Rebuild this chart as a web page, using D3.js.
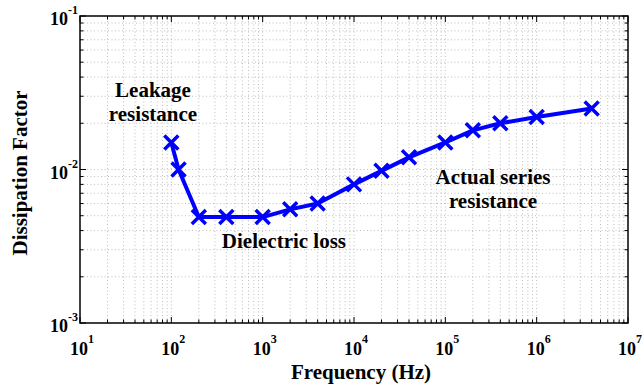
<!DOCTYPE html>
<html>

<head>
  <meta charset="utf-8">
  <title>Dissipation Factor</title>
  <script type="text/javascript" src="https://cdn.jsdelivr.net/npm/d3@7"></script>
  <style type="text/css">
    body { margin: 0; background: #fff; }
  </style>
</head>

<body>
  <script type="text/javascript">

    // Measured points
    const freq = [100, 120, 200, 400, 1000, 2000, 4000, 10000, 20000, 40000, 100000, 200000, 400000, 1000000, 4000000];
    const dissipation = [0.015, 0.01, 0.0049, 0.0049, 0.0049, 0.0055, 0.006, 0.008, 0.0098, 0.012, 0.015, 0.018, 0.02, 0.022, 0.025];

    // Axis decades
    const xExponents = [1, 2, 3, 4, 5, 6, 7];
    const yExponents = [-3, -2, -1];

    // Notes on the curve (centre frequency, baseline value of first line)
    const notes = [
      { lines: ["Leakage", "resistance"], f: 63, d: 0.0296 },
      { lines: ["Dielectric loss"], f: 1710, d: 0.00308 },
      { lines: ["Actual series", "resistance"], f: 333000, d: 0.00804 }
    ];

    const FONT = "Liberation Serif";

    // Width and height
    const w = 642;
    const h = 389;
    const margin = { top: 16, right: 14, bottom: 66, left: 80 };

    const x = d3.scaleLog().domain([1e1, 1e7]).range([margin.left, w - margin.right]);
    const y = d3.scaleLog().domain([1e-3, 1e-1]).range([h - margin.bottom, margin.top]);

    const svg = d3.select("body")
      .append("svg")
      .attr("width", w)
      .attr("height", h)
      .attr("font-family", FONT)
      .attr("font-weight", "bold");

    // tick values: every integer multiple inside each decade
    function allTicks(lo, hi) {
      const t = [];
      for (let e = lo; e < hi; e++) {
        for (let m = 1; m < 10; m++) t.push(m * Math.pow(10, e));
      }
      t.push(Math.pow(10, hi));
      return t;
    }
    const xTicks = allTicks(1, 7);
    const yTicks = allTicks(-3, -1);

    const x0 = x.range()[0], x1 = x.range()[1];
    const y0 = y.range()[0], y1 = y.range()[1];

    // dotted grid
    const grid = svg.append("g")
      .attr("stroke", "#adadad")
      .attr("stroke-width", 0.8)
      .attr("stroke-dasharray", "1,2.5");
    grid.selectAll(".gx")
      .data(xTicks.slice(1, -1))
      .enter()
      .append("line")
      .attr("x1", d => x(d)).attr("x2", d => x(d))
      .attr("y1", y0).attr("y2", y1);
    grid.selectAll(".gy")
      .data(yTicks.slice(1, -1))
      .enter()
      .append("line")
      .attr("x1", x0).attr("x2", x1)
      .attr("y1", d => y(d)).attr("y2", d => y(d));

    // inward ticks on all four sides
    const isMajor = v => Math.abs(Math.log10(v) - Math.round(Math.log10(v))) < 1e-9;
    const ticks = svg.append("g").attr("stroke", "#000").attr("stroke-width", 1);
    xTicks.forEach(function (d) {
      const len = isMajor(d) ? 6 : 3.5;
      ticks.append("line").attr("x1", x(d)).attr("x2", x(d)).attr("y1", y0).attr("y2", y0 - len);
      ticks.append("line").attr("x1", x(d)).attr("x2", x(d)).attr("y1", y1).attr("y2", y1 + len);
    });
    yTicks.forEach(function (d) {
      const len = isMajor(d) ? 6 : 3.5;
      ticks.append("line").attr("x1", x0).attr("x2", x0 + len).attr("y1", y(d)).attr("y2", y(d));
      ticks.append("line").attr("x1", x1).attr("x2", x1 - len).attr("y1", y(d)).attr("y2", y(d));
    });

    // box
    svg.append("rect")
      .attr("x", x0).attr("y", y1)
      .attr("width", x1 - x0).attr("height", y0 - y1)
      .attr("fill", "none")
      .attr("stroke", "#000")
      .attr("stroke-width", 1.5);

    // tick labels as 10 with superscript
    svg.selectAll(".xl")
      .data(xExponents)
      .enter()
      .append("text")
      .attr("x", d => x(Math.pow(10, d)) - 10)
      .attr("y", y0 + 32)
      .attr("font-size", 18)
      .each(function (d) {
        const t = d3.select(this);
        t.append("tspan").text("10");
        t.append("tspan").attr("font-size", 12).attr("dy", -12).text(d);
      });

    svg.selectAll(".yl")
      .data(yExponents)
      .enter()
      .append("text")
      .attr("x", x0 - 2)
      .attr("y", d => y(Math.pow(10, d)) + 9)
      .attr("text-anchor", "end")
      .attr("font-size", 18)
      .each(function (d) {
        const t = d3.select(this);
        t.append("tspan").text("10");
        t.append("tspan").attr("font-size", 12).attr("dy", -11).text(d);
      });

    // axis titles
    svg.append("text")
      .attr("x", 361)
      .attr("y", 379)
      .attr("text-anchor", "middle")
      .attr("font-size", 21)
      .text("Frequency (Hz)");

    svg.append("text")
      .attr("transform", "translate(27," + 173 + ") rotate(-90)")
      .attr("text-anchor", "middle")
      .attr("font-size", 21)
      .text("Dissipation Factor");

    // the curve
    const pts = freq.map((f, i) => [f, dissipation[i]]);
    const line = d3.line()
      .x(d => x(d[0]))
      .y(d => y(d[1]));

    svg.append("path")
      .datum(pts)
      .attr("d", line)
      .attr("fill", "none")
      .attr("stroke", "#0000ff")
      .attr("stroke-width", 4)
      .attr("stroke-linejoin", "round");

    svg.selectAll(".mk")
      .data(pts)
      .enter()
      .append("path")
      .attr("transform", d => "translate(" + x(d[0]) + "," + y(d[1]) + ")")
      .attr("d", "M-7,-7L7,7M-7,7L7,-7")
      .attr("stroke", "#0000ff")
      .attr("stroke-width", 3.5)
      .attr("fill", "none");

    // annotations
    notes.forEach(function (n) {
      const t = svg.append("text")
        .attr("text-anchor", "middle")
        .attr("font-size", 21);
      n.lines.forEach(function (s, i) {
        t.append("tspan")
          .attr("x", x(n.f))
          .attr("y", y(n.d) + i * 24)
          .text(s);
      });
    });

  </script>
</body>

</html>
